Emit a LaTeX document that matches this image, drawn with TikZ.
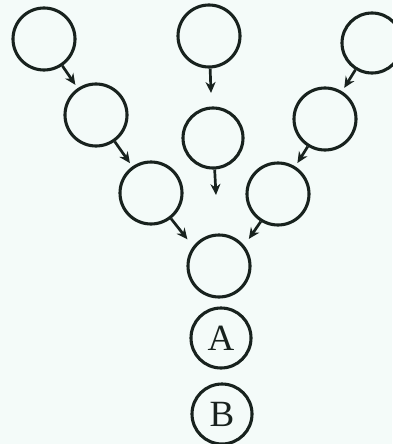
\documentclass[tikz,border=0pt]{standalone}
\usepackage{fontspec}
\setmainfont{Liberation Serif}
\usetikzlibrary{arrows.meta}
\definecolor{ink}{RGB}{24,34,30}
\definecolor{paper}{RGB}{244,251,249}
\begin{document}
\begin{tikzpicture}[x=1pt,y=-1pt,
  ring/.style={circle,draw=ink,line width=3.1pt,minimum size=62pt,inner sep=0pt},
  lettered/.style={ring,minimum size=60pt,font=\fontsize{37}{37}\selectfont,text=ink},
  link/.style={draw=ink,line width=2.7pt,-{Stealth[length=11pt,width=10pt]}}]
\fill[paper] (0,0) rectangle (392,444);
\useasboundingbox (0,0) rectangle (392,444);
\node[ring] (L1) at (44,39) {};
\node[ring] (L2) at (96,115) {};
\node[ring] (L3) at (151,193) {};
\node[ring] (M1) at (209,36) {};
\node[ring,minimum size=60pt] (M2) at (213,138) {};
\node[ring,minimum size=60pt] (R1) at (372,43) {};
\node[ring] (R2) at (325,119) {};
\node[ring] (R3) at (278,194) {};
\node[ring] (C) at (219,266) {};
\node[lettered] (A) at (221,338) {A};
\node[lettered] (B) at (222,414) {B};
\coordinate (m1e) at (211,93);
\coordinate (m2e) at (216,195);
\draw[link,shorten >=4pt] (L1) -- (L2);
\draw[link,shorten >=4pt] (L2) -- (L3);
\draw[link,shorten >=4pt] (R1) -- (R2);
\draw[link,shorten >=4pt] (R2) -- (R3);
\draw[link] (M1) -- (m1e);
\draw[link] (M2) -- (m2e);
\draw[link,shorten >=9pt] (L3.-52) -- (C.143);
\draw[link,shorten >=8pt] (R3.-122) -- (C.39);
\end{tikzpicture}
\end{document}
